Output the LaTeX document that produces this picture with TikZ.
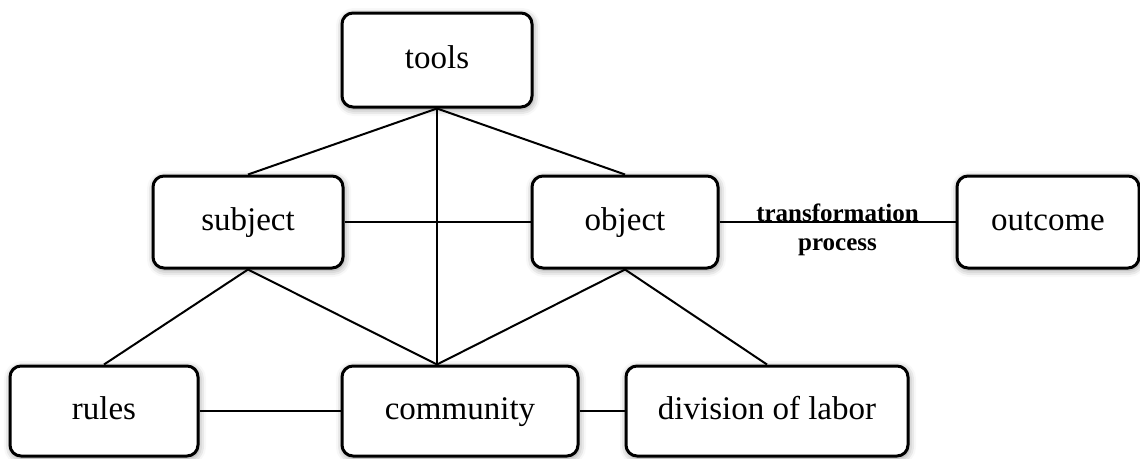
\documentclass[tikz,border=0pt]{standalone}
\usepackage{fontspec}
\setmainfont{Liberation Serif}
\usetikzlibrary{shadows.blur}
\begin{document}
\begin{tikzpicture}[x=1pt,y=-1pt,
  box/.style={draw=black, line width=3pt, rounded corners=11pt, fill=white,
    font=\fontsize{33}{38}\selectfont, inner sep=0pt, text height=23pt, text depth=7pt,
    blur shadow={shadow xshift=1pt, shadow yshift=-2pt, shadow blur radius=7pt, shadow opacity=45}},
  conn/.style={line width=2pt, draw=black},
  lbl/.style={font=\fontsize{25}{29}\selectfont\bfseries, align=center, inner sep=0pt}
]
\useasboundingbox (0,0) rectangle (1140,458);
\node[box, minimum width=190pt, minimum height=94pt] (tools) at (437,60) {tools};
\node[box, minimum width=190pt, minimum height=92pt] (subject) at (248,222) {subject};
\node[box, minimum width=186pt, minimum height=92pt] (object) at (625,222) {object};
\node[box, minimum width=182pt, minimum height=92pt] (outcome) at (1048,222) {outcome};
\node[box, minimum width=188pt, minimum height=90pt] (rules) at (104,411) {rules};
\node[box, minimum width=236pt, minimum height=90pt] (community) at (460,411) {community};
\node[box, minimum width=282pt, minimum height=90pt] (division) at (767,411) {division of labor};
\coordinate (ct) at (tools.south |- community.north);
\draw[conn] (tools.south) -- (subject.north);
\draw[conn] (tools.south) -- (object.north);
\draw[conn] (tools.south) -- (ct);
\draw[conn] (subject.east) -- (object.west);
\draw[conn] (object.east) -- (outcome.west);
\draw[conn] (subject.south) -- (rules.north);
\draw[conn] (subject.south) -- (ct);
\draw[conn] (object.south) -- (ct);
\draw[conn] (object.south) -- (division.north);
\draw[conn] (rules.east) -- (community.west);
\draw[conn] (community.east) -- (division.west);
\path (object.east) -- node[lbl, pos=0.5, yshift=-8pt] (tp) {transformation\\process} (outcome.west);
\end{tikzpicture}
\end{document}
